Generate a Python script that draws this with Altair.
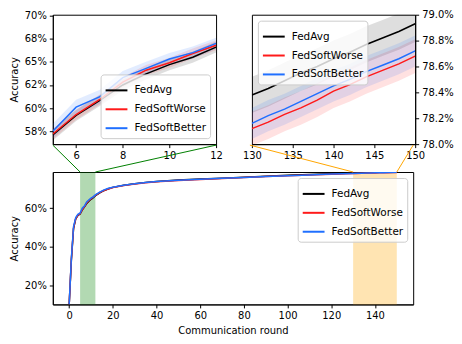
import altair as alt
import pandas as pd

# ---------------- data ----------------
series_names = ["FedAvg", "FedSoftWorse", "FedSoftBetter"]
series_colors = ["#000000", "#ff1a1a", "#1f6fff"]

rounds = [0, 1, 2, 3, 4, 5, 6, 7, 8, 9, 10, 11, 12, 14, 16, 18, 20, 25, 30, 35, 40,
          50, 60, 70, 80, 90, 100, 110, 120,
          130, 132, 134, 136, 138, 140, 142, 144, 146, 148, 150]

acc_fedavg = [10.0, 33.0, 49.5, 54.5, 56.3, 57.1, 59.2, 60.8, 62.5, 63.7, 64.7, 65.5, 66.6,
              68.1, 69.3, 70.2, 70.9, 72.0, 72.8, 73.5, 74.0,
              74.7, 75.2, 75.7, 76.2, 76.7, 77.2, 77.6, 78.0,
              78.38, 78.43, 78.49, 78.55, 78.60, 78.66, 78.71, 78.77, 78.82, 78.87, 78.93]
acc_worse = [10.0, 33.5, 49.8, 54.7, 56.5, 57.2, 59.3, 60.9, 62.8, 64.1, 64.9, 65.9, 66.8,
             68.2, 69.3, 70.1, 70.8, 71.9, 72.7, 73.3, 73.8,
             74.5, 75.0, 75.5, 76.0, 76.5, 76.9, 77.3, 77.7,
             78.12, 78.17, 78.23, 78.28, 78.34, 78.41, 78.46, 78.52, 78.57, 78.62, 78.68]
acc_better = [10.0, 34.0, 50.5, 55.2, 56.9, 57.5, 60.1, 61.2, 63.3, 64.3, 65.3, 66.0, 67.0,
              68.4, 69.6, 70.4, 71.0, 72.0, 72.8, 73.4, 73.9,
              74.6, 75.1, 75.6, 76.1, 76.6, 77.0, 77.4, 77.8,
              78.16, 78.22, 78.27, 78.33, 78.39, 78.45, 78.50, 78.56, 78.61, 78.66, 78.72]

std_fedavg = [0.0, 1.5, 1.2, 0.9, 0.7, 0.6, 0.6, 0.6, 0.6, 0.6, 0.6, 0.6, 0.6,
              0.5, 0.45, 0.4, 0.35, 0.3, 0.25, 0.22, 0.2,
              0.18, 0.17, 0.16, 0.15, 0.15, 0.15, 0.14, 0.14,
              0.14, 0.14, 0.14, 0.14, 0.14, 0.14, 0.14, 0.14, 0.14, 0.14, 0.14]
std_worse = [0.0, 1.4, 1.1, 0.8, 0.6, 0.55, 0.55, 0.55, 0.55, 0.55, 0.55, 0.55, 0.55,
             0.45, 0.4, 0.35, 0.3, 0.27, 0.23, 0.2, 0.18,
             0.16, 0.15, 0.14, 0.14, 0.13, 0.13, 0.13, 0.13,
             0.13, 0.13, 0.13, 0.13, 0.13, 0.13, 0.13, 0.13, 0.13, 0.13, 0.13]
std_better = [0.0, 1.6, 1.3, 1.0, 0.8, 0.8, 0.8, 0.75, 0.7, 0.7, 0.65, 0.65, 0.6,
              0.5, 0.45, 0.4, 0.35, 0.3, 0.25, 0.22, 0.2,
              0.17, 0.16, 0.15, 0.14, 0.13, 0.13, 0.12, 0.12,
              0.12, 0.12, 0.12, 0.12, 0.12, 0.12, 0.12, 0.12, 0.12, 0.12, 0.12]

zoom_regions = [(5, 12), (130, 150)]
zoom_colors = ["green", "orange"]

tl_y_domain = [56.1, 70.1]
tr_y_domain = [78.0, 79.0]
main_x_domain = [-7.5, 157.5]
main_y_domain = [10.0, 78.9]

tl_x_ticks = [6, 8, 10, 12]
tl_y_ticks = [57.5, 60, 62.5, 65, 67.5, 70]
tl_y_labels = ["58%", "60%", "62%", "65%", "68%", "70%"]
tr_x_ticks = [130, 135, 140, 145, 150]
tr_y_ticks = [78.0, 78.2, 78.4, 78.6, 78.8, 79.0]
tr_y_labels = ["78.0%", "78.2%", "78.4%", "78.6%", "78.8%", "79.0%"]
main_x_ticks = [0, 20, 40, 60, 80, 100, 120, 140]
main_y_ticks = [20, 40, 60]
main_y_labels = ["20%", "40%", "60%"]

# ---------------- layout ----------------
FONT = "DejaVu Sans"
FS = 10
W_TOP = 164
GAP_X = 34
W_MAIN = 2 * W_TOP + GAP_X
H_TOP = 130
GAP_Y = 27
H_MAIN = 133

rows = []
for name, acc, sd in zip(series_names, [acc_fedavg, acc_worse, acc_better],
                         [std_fedavg, std_worse, std_better]):
    for r, a, s in zip(rounds, acc, sd):
        rows.append({"round": r, "series": name, "acc": a, "lo": a - s, "hi": a + s})
df = pd.DataFrame(rows)


def lab_expr(vals, labels):
    return "[" + ",".join("'%s'" % l for l in labels) + "][indexof([" + \
        ",".join(repr(float(v)) for v in vals) + "], datum.value)]"


def panel(data, xdom, ydom, xticks, yticks, ylabels, yorient, ytitle, xtitle,
          legend_orient):
    xs = alt.Scale(domain=xdom, nice=False, zero=False)
    ys = alt.Scale(domain=ydom, nice=False, zero=False)
    xax = alt.Axis(values=xticks, title=xtitle, labelFlush=False, labelOverlap=False)
    yax = alt.Axis(values=yticks, orient=yorient, title=ytitle, labelOverlap=False,
                   labelExpr=lab_expr(yticks, ylabels))
    cscale = alt.Scale(domain=series_names, range=series_colors)
    bands = []
    for name, col in zip(series_names, series_colors):
        bands.append(alt.Chart(data).transform_filter(
            alt.datum.series == name).mark_area(clip=True, color=col, fillOpacity=0.13).encode(
            x=alt.X("round:Q", scale=xs, axis=xax),
            y=alt.Y("lo:Q", scale=ys, axis=yax),
            y2="hi:Q",
        ))
    line = alt.Chart(data).mark_line(clip=True, strokeWidth=1.5).encode(
        x=alt.X("round:Q", scale=xs, axis=xax),
        y=alt.Y("acc:Q", scale=ys, axis=yax),
        stroke=alt.Stroke(
            "series:N", scale=cscale,
            legend=alt.Legend(
                orient=legend_orient, offset=6, title=None, symbolType="stroke",
                symbolStrokeWidth=2, symbolSize=480, labelFont=FONT, labelFontSize=10.5,
                labelColor="black", labelOffset=6, fillColor="rgba(255,255,255,0.8)",
                strokeColor="#cccccc", cornerRadius=3, padding=4, rowPadding=1,
            ),
        ),
    )
    return bands, line, xs, ys, xax, yax


tl_data = df[(df["round"] >= zoom_regions[0][0]) & (df["round"] <= zoom_regions[0][1])]
tr_data = df[(df["round"] >= zoom_regions[1][0]) & (df["round"] <= zoom_regions[1][1])]

b, l, *_ = panel(tl_data, list(zoom_regions[0]), tl_y_domain, tl_x_ticks, tl_y_ticks,
                 tl_y_labels, "left", "Accuracy", None, "bottom-right")
tl = alt.layer(*b, l).properties(width=W_TOP, height=H_TOP)

b, l, *_ = panel(tr_data, list(zoom_regions[1]), tr_y_domain, tr_x_ticks, tr_y_ticks,
                 tr_y_labels, "right", None, None, "top-left")
tr = alt.layer(*b, l).properties(width=W_TOP, height=H_TOP)

b, l, xs, ys, xax, yax = panel(df, main_x_domain, main_y_domain, main_x_ticks, main_y_ticks,
                               main_y_labels, "left", "Accuracy",
                               "Communication round", "top-right")

inset_px = [(0, W_TOP), (W_TOP + GAP_X, W_MAIN)]
spans = []
conns = []
for (z0, z1), col, (p0, p1) in zip(zoom_regions, zoom_colors, inset_px):
    sd = pd.DataFrame({"start": [z0], "end": [z1]})
    spans.append(alt.Chart(sd).mark_rect(color=col, opacity=0.3).encode(
        x=alt.X("start:Q", scale=xs, axis=xax), x2="end:Q"))
    for v, p in [(z0, p0), (z1, p1)]:
        cd = pd.DataFrame({"start": [v]})
        conns.append(alt.Chart(cd).mark_rule(color=col, strokeWidth=1).encode(
            x=alt.X("start:Q", scale=xs, axis=xax), y=alt.value(0),
            x2=alt.value(p), y2=alt.value(-GAP_Y)))

main = alt.layer(*spans, *b, l, *conns).properties(width=W_MAIN, height=H_MAIN)

top = alt.hconcat(tl, tr, spacing=18).resolve_scale(
    stroke="independent").resolve_legend(stroke="independent")

chart = alt.vconcat(top, main, spacing=-17).resolve_scale(
    stroke="independent").resolve_legend(
    stroke="independent").properties(padding=0, background="white").configure_view(
    stroke="black", strokeWidth=1).configure_axis(
    labelFont=FONT, labelFontSize=FS, labelColor="black", titleFont=FONT,
    titleFontSize=FS, titleFontWeight="normal", titleColor="black", domainColor="black",
    domainWidth=1, tickColor="black", tickWidth=1, tickSize=3.5, labelPadding=3,
    titlePadding=5, grid=False)

chart.save("out.html", embed_options={"renderer": "svg", "actions": False})
